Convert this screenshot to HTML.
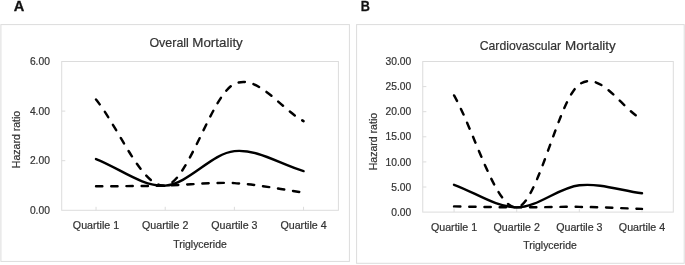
<!DOCTYPE html>
<html><head><meta charset="utf-8"><title>Figure</title>
<style>
html,body{margin:0;padding:0;background:#fff;}
svg{display:block;will-change:transform;}
text{font-family:"Liberation Sans",sans-serif;}
.s{font-size:10.05px;fill:#333333;stroke:#333333;stroke-width:0.2px;}
.n{font-size:10px;}
.t{font-size:12.9px;fill:#333333;stroke:#333333;stroke-width:0.2px;}
.b{font-size:14.6px;font-weight:bold;fill:#111;stroke:#111;stroke-width:0.3px;}
</style></head><body>
<svg width="685" height="265" viewBox="0 0 685 265">
<rect width="685" height="265" fill="#fff"/>
<rect x="0.9" y="24.6" width="348.50" height="236.80" fill="#fff" stroke="#dcdcdc" stroke-width="1"/>
<rect x="61.7" y="61.5" width="276.70" height="148.80" fill="none" stroke="#dcdcdc" stroke-width="1"/>
<text x="49.9" y="213.90" text-anchor="end" class="s n" textLength="20.0" lengthAdjust="spacingAndGlyphs">0.00</text>
<line x1="61.7" y1="160.70" x2="65.3" y2="160.70" stroke="#dcdcdc" stroke-width="1"/>
<text x="49.9" y="164.30" text-anchor="end" class="s n" textLength="20.0" lengthAdjust="spacingAndGlyphs">2.00</text>
<line x1="61.7" y1="111.10" x2="65.3" y2="111.10" stroke="#dcdcdc" stroke-width="1"/>
<text x="49.9" y="114.70" text-anchor="end" class="s n" textLength="20.0" lengthAdjust="spacingAndGlyphs">4.00</text>
<text x="49.9" y="65.10" text-anchor="end" class="s n" textLength="20.0" lengthAdjust="spacingAndGlyphs">6.00</text>
<line x1="96.04" y1="210.3" x2="96.04" y2="206.8" stroke="#dcdcdc" stroke-width="1"/>
<text x="96.04" y="229.00" text-anchor="middle" class="s" textLength="46.3" lengthAdjust="spacingAndGlyphs">Quartile 1</text>
<line x1="165.21" y1="210.3" x2="165.21" y2="206.8" stroke="#dcdcdc" stroke-width="1"/>
<text x="165.21" y="229.00" text-anchor="middle" class="s" textLength="46.3" lengthAdjust="spacingAndGlyphs">Quartile 2</text>
<line x1="234.39" y1="210.3" x2="234.39" y2="206.8" stroke="#dcdcdc" stroke-width="1"/>
<text x="234.39" y="229.00" text-anchor="middle" class="s" textLength="46.3" lengthAdjust="spacingAndGlyphs">Quartile 3</text>
<line x1="303.56" y1="210.3" x2="303.56" y2="206.8" stroke="#dcdcdc" stroke-width="1"/>
<text x="303.56" y="229.00" text-anchor="middle" class="s" textLength="46.3" lengthAdjust="spacingAndGlyphs">Quartile 4</text>
<text x="149.4" y="46.9" class="t" textLength="39.5" lengthAdjust="spacingAndGlyphs">Overall</text>
<text x="192.3" y="46.9" class="t" textLength="50.5" lengthAdjust="spacingAndGlyphs">Mortality</text>
<text x="200.0" y="247.8" text-anchor="middle" class="s" textLength="53.5" lengthAdjust="spacingAndGlyphs">Triglyceride</text>
<text transform="translate(19.6,139.5) rotate(-90)" text-anchor="middle" class="s" textLength="57.4" lengthAdjust="spacingAndGlyphs">Hazard ratio</text>
<path d="M96.04,186.34 C119.10,186.10 142.15,186.14 165.21,185.60 C188.27,185.06 211.33,181.96 234.39,183.12 C257.45,184.28 280.50,189.40 303.56,192.54" fill="none" stroke="#000" stroke-width="2.45" stroke-linecap="round" stroke-dasharray="6.3 8.9"/>
<path d="M96.04,99.54 C119.10,128.23 142.15,188.20 165.21,185.60 C188.27,183.00 211.33,94.67 234.39,83.92 C257.45,73.17 280.50,108.72 303.56,121.12" fill="none" stroke="#000" stroke-width="2.45" stroke-linecap="round" stroke-dasharray="6.3 8.9"/>
<path d="M96.04,159.06 C119.10,167.91 142.15,186.92 165.21,185.60 C188.27,184.28 211.33,153.55 234.39,151.13 C257.45,148.71 280.50,164.44 303.56,171.09" fill="none" stroke="#000" stroke-width="2.45" stroke-linecap="round"/>
<rect x="356.6" y="24.6" width="327.60" height="238.70" fill="#fff" stroke="#dcdcdc" stroke-width="1"/>
<rect x="422.75" y="61.5" width="250.55" height="150.60" fill="none" stroke="#dcdcdc" stroke-width="1"/>
<text x="411.3" y="215.70" text-anchor="end" class="s n" textLength="20.0" lengthAdjust="spacingAndGlyphs">0.00</text>
<line x1="422.75" y1="187.00" x2="426.35" y2="187.00" stroke="#dcdcdc" stroke-width="1"/>
<text x="411.3" y="190.60" text-anchor="end" class="s n" textLength="20.0" lengthAdjust="spacingAndGlyphs">5.00</text>
<line x1="422.75" y1="161.90" x2="426.35" y2="161.90" stroke="#dcdcdc" stroke-width="1"/>
<text x="411.3" y="165.50" text-anchor="end" class="s n" textLength="25.7" lengthAdjust="spacingAndGlyphs">10.00</text>
<line x1="422.75" y1="136.80" x2="426.35" y2="136.80" stroke="#dcdcdc" stroke-width="1"/>
<text x="411.3" y="140.40" text-anchor="end" class="s n" textLength="25.7" lengthAdjust="spacingAndGlyphs">15.00</text>
<line x1="422.75" y1="111.70" x2="426.35" y2="111.70" stroke="#dcdcdc" stroke-width="1"/>
<text x="411.3" y="115.30" text-anchor="end" class="s n" textLength="25.7" lengthAdjust="spacingAndGlyphs">20.00</text>
<line x1="422.75" y1="86.60" x2="426.35" y2="86.60" stroke="#dcdcdc" stroke-width="1"/>
<text x="411.3" y="90.20" text-anchor="end" class="s n" textLength="25.7" lengthAdjust="spacingAndGlyphs">25.00</text>
<text x="411.3" y="65.10" text-anchor="end" class="s n" textLength="25.7" lengthAdjust="spacingAndGlyphs">30.00</text>
<line x1="454.07" y1="212.1" x2="454.07" y2="208.6" stroke="#dcdcdc" stroke-width="1"/>
<text x="454.07" y="230.80" text-anchor="middle" class="s" textLength="46.3" lengthAdjust="spacingAndGlyphs">Quartile 1</text>
<line x1="516.71" y1="212.1" x2="516.71" y2="208.6" stroke="#dcdcdc" stroke-width="1"/>
<text x="516.71" y="230.80" text-anchor="middle" class="s" textLength="46.3" lengthAdjust="spacingAndGlyphs">Quartile 2</text>
<line x1="579.34" y1="212.1" x2="579.34" y2="208.6" stroke="#dcdcdc" stroke-width="1"/>
<text x="579.34" y="230.80" text-anchor="middle" class="s" textLength="46.3" lengthAdjust="spacingAndGlyphs">Quartile 3</text>
<line x1="641.98" y1="212.1" x2="641.98" y2="208.6" stroke="#dcdcdc" stroke-width="1"/>
<text x="641.98" y="230.80" text-anchor="middle" class="s" textLength="46.3" lengthAdjust="spacingAndGlyphs">Quartile 4</text>
<text x="479.7" y="50.0" class="t" textLength="81.5" lengthAdjust="spacingAndGlyphs">Cardiovascular</text>
<text x="565.1" y="50.0" class="t" textLength="50.7" lengthAdjust="spacingAndGlyphs">Mortality</text>
<text x="550.0" y="248.6" text-anchor="middle" class="s" textLength="53.5" lengthAdjust="spacingAndGlyphs">Triglyceride</text>
<text transform="translate(377.4,141.6) rotate(-90)" text-anchor="middle" class="s" textLength="57.4" lengthAdjust="spacingAndGlyphs">Hazard ratio</text>
<path d="M454.07,206.38 C474.95,206.71 495.83,207.30 516.71,207.38 C537.59,207.46 558.46,206.63 579.34,206.88 C600.22,207.13 621.10,208.22 641.98,208.89" fill="none" stroke="#000" stroke-width="2.45" stroke-linecap="round" stroke-dasharray="6.3 8.9"/>
<path d="M454.07,95.43 C474.95,132.75 495.83,209.22 516.71,207.38 C537.59,205.54 558.46,99.03 579.34,84.39 C600.22,69.75 621.10,107.82 641.98,119.53" fill="none" stroke="#000" stroke-width="2.45" stroke-linecap="round" stroke-dasharray="6.3 8.9"/>
<path d="M454.07,184.79 C474.95,192.32 495.83,207.30 516.71,207.38 C537.59,207.46 558.46,187.63 579.34,185.29 C600.22,182.95 621.10,190.65 641.98,193.32" fill="none" stroke="#000" stroke-width="2.45" stroke-linecap="round"/>
<text x="13.7" y="11.2" class="b">A</text>
<text transform="translate(360.7,11.3) scale(0.87,1)" class="b">B</text>
</svg>
</body></html>
